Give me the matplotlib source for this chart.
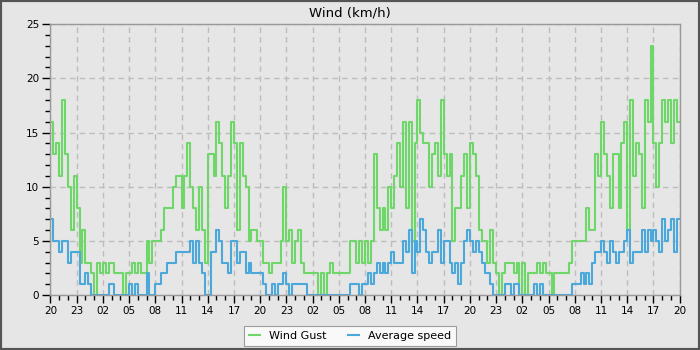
import numpy as np
import matplotlib
matplotlib.use('Agg')
import matplotlib.pyplot as plt
from matplotlib.patches import Rectangle

# 20-minute readings, 3 per hour, starting at 20:00
gust = [16, 13, 14, 11, 18, 13, 10, 6, 11, 8, 3, 6, 3, 3, 2, 0, 3, 2,
        3, 2, 3, 3, 2, 2, 2, 0, 2, 2, 3, 2, 3, 2, 2, 5, 3, 5,
        5, 5, 6, 8, 8, 8, 10, 11, 11, 8, 11, 14, 10, 8, 6, 10, 6, 3,
        13, 13, 11, 16, 14, 11, 8, 11, 16, 14, 6, 14, 11, 10, 5, 6, 6, 5,
        5, 3, 3, 2, 3, 3, 3, 5, 10, 5, 6, 3, 5, 6, 3, 2, 2, 2,
        2, 2, 0, 2, 0, 2, 3, 2, 2, 2, 2, 2, 2, 5, 5, 3, 5, 3,
        5, 3, 5, 13, 8, 6, 8, 6, 10, 8, 11, 14, 10, 16, 8, 16, 5, 14,
        18, 15, 14, 14, 10, 13, 14, 11, 18, 13, 11, 13, 5, 8, 8, 11, 13, 8,
        14, 13, 11, 6, 5, 5, 3, 6, 3, 2, 0, 2, 3, 3, 3, 2, 3, 0,
        3, 0, 2, 2, 2, 3, 2, 3, 2, 2, 0, 2, 2, 2, 2, 2, 3, 5,
        5, 5, 5, 5, 8, 6, 6, 13, 11, 16, 13, 11, 8, 13, 13, 8, 14, 16,
        6, 18, 11, 14, 13, 8, 18, 16, 23, 14, 10, 14, 18, 16, 18, 14, 18, 16]

avg = [7, 5, 5, 4, 5, 5, 3, 4, 4, 4, 1, 1, 2, 1, 0, 0, 0, 0,
       0, 0, 1, 1, 0, 0, 0, 0, 0, 1, 0, 1, 0, 0, 0, 2, 0, 0,
       1, 1, 2, 2, 3, 3, 3, 4, 4, 4, 4, 4, 5, 3, 5, 3, 2, 0,
       0, 4, 4, 6, 5, 3, 3, 2, 5, 5, 3, 4, 4, 2, 3, 2, 2, 2,
       2, 1, 0, 0, 1, 0, 1, 1, 2, 1, 0, 1, 1, 1, 1, 1, 0, 0,
       0, 0, 0, 0, 0, 0, 0, 0, 0, 0, 0, 0, 0, 1, 1, 1, 0, 1,
       1, 2, 1, 2, 3, 2, 3, 2, 3, 4, 3, 3, 3, 5, 4, 6, 2, 5,
       4, 7, 6, 4, 3, 4, 4, 6, 3, 5, 5, 3, 2, 3, 1, 3, 5, 6,
       5, 4, 5, 4, 3, 2, 2, 1, 0, 0, 0, 0, 1, 1, 0, 1, 1, 0,
       0, 0, 0, 0, 1, 0, 1, 0, 0, 0, 0, 0, 0, 0, 0, 0, 0, 1,
       1, 1, 2, 1, 2, 1, 3, 4, 4, 5, 4, 3, 5, 4, 3, 4, 4, 5,
       6, 3, 4, 4, 4, 6, 4, 6, 5, 6, 5, 4, 7, 5, 6, 7, 4, 7]

hour_labels = ['20', '23', '02', '05', '08', '11', '14', '17',
               '20', '23', '02', '05', '08', '11', '14', '17',
               '20', '23', '02', '05', '08', '11', '14', '17', '20']

bg = '#e6e6e6'
green = '#6fd66a'
blue = '#4aa8da'

hours = np.arange(len(gust)) / 3.0
x = np.append(hours, len(gust) / 3.0)
g = np.append(gust, gust[-1])
a = np.append(avg, avg[-1])

fig = plt.figure(figsize=(7, 3.5), dpi=100, facecolor=bg)
ax = fig.add_axes([0.072, 0.157, 0.899, 0.774], facecolor=bg)

ax.step(x, g, where='post', color=green, lw=1.5, label='Wind Gust')
ax.step(x, a, where='post', color=blue, lw=1.5, label='Average speed')

ax.set_xlim(0, 72)
ax.set_ylim(0, 25)
ax.set_xticks(np.arange(0, 73, 3))
ax.set_xticklabels(hour_labels)
ax.set_xticks(np.arange(0, 73, 1), minor=True)
ax.set_yticks(np.arange(0, 26, 5))
ax.set_yticks(np.arange(0, 26, 1), minor=True)
ax.tick_params(which='major', length=6, width=1, color='black', labelsize=7.5, pad=2)
ax.tick_params(which='minor', length=3.5, width=1, color='black')
ax.grid(True, which='major', color='#bdbdbd', linestyle=(0, (4, 3)), lw=1)
ax.set_axisbelow(True)
for s in ax.spines.values():
    s.set_color('#999999')
    s.set_linewidth(1)

fig.text(0.5, 1 - 12.5 / 350, 'Wind (km/h)', fontsize=9.5, ha='center', va='center')

leg = fig.legend(loc='lower center', bbox_to_anchor=(0.5, 4 / 350), ncol=2,
                 fontsize=8, frameon=True, fancybox=False, handlelength=1.0,
                 columnspacing=2.0, borderpad=0.45, borderaxespad=0)
leg.get_frame().set_edgecolor('#888888')
leg.get_frame().set_facecolor('white')
leg.get_frame().set_linewidth(0.8)

fig.patches.append(Rectangle((0, 0), 1, 1, transform=fig.transFigure, fill=False,
                             edgecolor='#555555', lw=3, zorder=10))

fig.savefig('out.png', dpi=100, facecolor=bg)
